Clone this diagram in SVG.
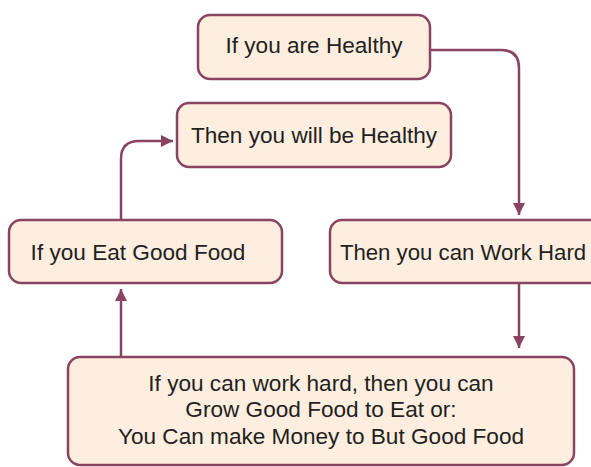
<svg xmlns="http://www.w3.org/2000/svg" width="591" height="467" viewBox="0 0 591 467">
<style>
.box{fill:#FDEEDF;stroke:#8A4360;stroke-width:2.5}
.t{font-family:"Liberation Sans",Arial,sans-serif;font-size:22.6px;fill:#231F20;text-anchor:middle}
.c{fill:none;stroke:#8A4360;stroke-width:2.5}
</style>
<defs>
<marker id="ah" viewBox="0 0 12 12" refX="12" refY="6" markerWidth="12" markerHeight="12" markerUnits="userSpaceOnUse" orient="auto">
<path d="M0,0 L12,6 L0,12 Z" fill="#8A4360"/>
</marker>
</defs>
<rect width="591" height="467" fill="#FFFFFF"/>
<g id="connectors">
<path class="c" d="M430,50 H501 Q519,50 519,68 V215" marker-end="url(#ah)"/>
<path class="c" d="M519,284 V348" marker-end="url(#ah)"/>
<path class="c" d="M121,357 V289" marker-end="url(#ah)"/>
<path class="c" d="M121,220 V159 Q121,141 139,141 H173" marker-end="url(#ah)"/>
</g>
<g id="n1">
<rect class="box" x="198" y="15" width="232" height="64" rx="12"/>
<text class="t" x="314" y="53">If you are Healthy</text>
</g>
<g id="n2">
<rect class="box" x="177" y="103" width="274" height="64" rx="12"/>
<text class="t" x="314" y="143">Then you will be Healthy</text>
</g>
<g id="n3">
<rect class="box" x="9" y="220" width="273" height="63" rx="12"/>
<text class="t" x="138" y="260">If you Eat Good Food</text>
</g>
<g id="n4">
<rect class="box" x="330" y="220" width="272" height="63" rx="12"/>
<text class="t" x="463" y="260" style="font-size:22.2px">Then you can Work Hard</text>
</g>
<g id="n5">
<rect class="box" x="68" y="357" width="506" height="108" rx="12"/>
<text class="t" x="321" y="391">If you can work hard, then you can</text>
<text class="t" x="321" y="417">Grow Good Food to Eat or:</text>
<text class="t" x="321" y="444">You Can make Money to But Good Food</text>
</g>
</svg>
